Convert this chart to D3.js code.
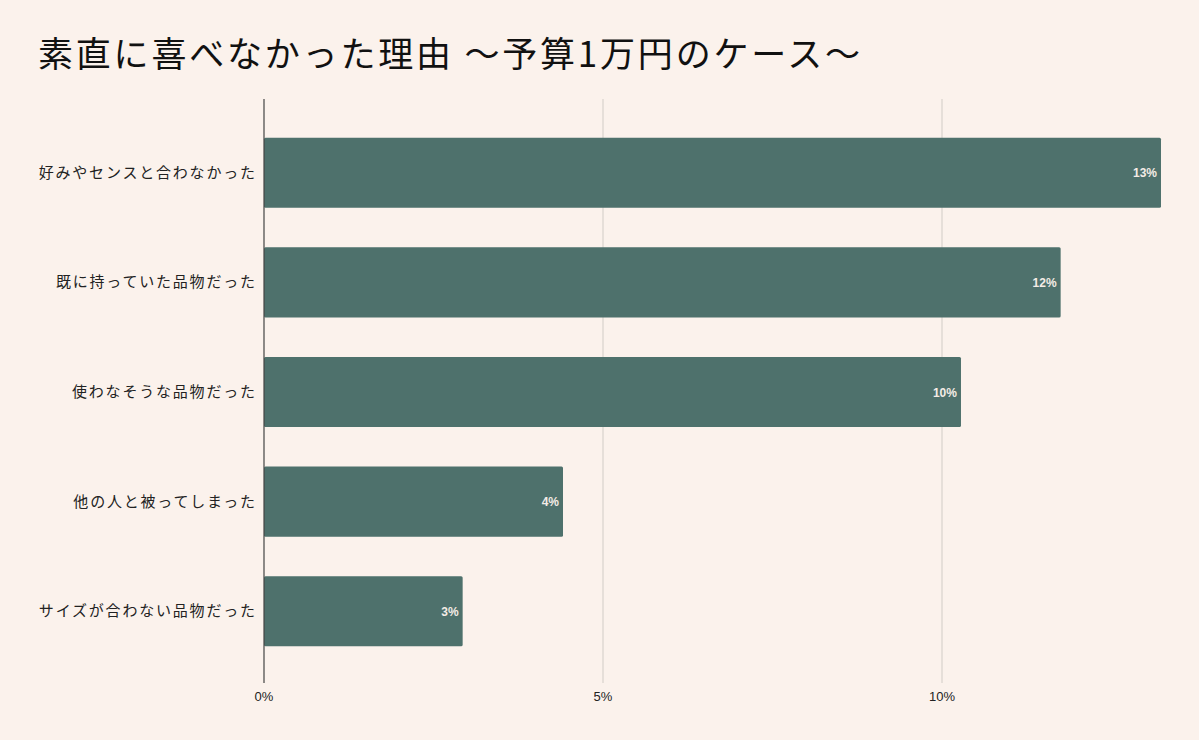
<!DOCTYPE html>
<html><head><meta charset="utf-8">
<script src="https://cdn.jsdelivr.net/npm/d3@7"></script>
<style>
html,body{margin:0;padding:0;background:#fbf2ec;}
svg{display:block;font-family:"Noto Sans CJK JP","Noto Sans",sans-serif;}
</style></head>
<body><svg id="c" width="1199" height="740"></svg>
<script>
const title = "素直に喜べなかった理由 ～予算1万円のケース～";
const categories = ["好みやセンスと合わなかった","既に持っていた品物だった","使わなそうな品物だった","他の人と被ってしまった","サイズが合わない品物だった"];
const values = [13.23, 11.75, 10.28, 4.41, 2.93];
const tickValues = [0, 5, 10];

const svg = d3.select("#c");
svg.append("rect").attr("width",1199).attr("height",740).attr("fill","#fbf2ec");
svg.append("text").attr("x",38).attr("y",67).attr("font-size",35).attr("letter-spacing",2.8)
  .attr("fill","#111").text(title);

const x = d3.scaleLinear().domain([0,10]).range([264,942]);
const y = d3.scaleBand().domain(categories).range([118,666]).paddingInner(0.36).paddingOuter(0.18);

// grid
svg.append("g").selectAll("line").data(tickValues.filter(d=>d>0)).join("line")
  .attr("x1",d=>x(d)).attr("x2",d=>x(d)).attr("y1",99).attr("y2",683)
  .attr("stroke","#d9d2cd").attr("stroke-width",1.2);

// bars
svg.append("g").selectAll("rect").data(values).join("rect")
  .attr("x",x(0)).attr("y",(d,i)=>y(categories[i]))
  .attr("width",d=>x(d)-x(0)).attr("height",y.bandwidth())
  .attr("rx",1.5).attr("fill","#4e716c");

// value labels
svg.append("g").selectAll("text").data(values).join("text")
  .attr("x",d=>x(d)-4).attr("y",(d,i)=>y(categories[i])+y.bandwidth()/2+4.5)
  .attr("text-anchor","end").attr("font-size",12).attr("font-weight","bold")
  .attr("font-family","'Liberation Sans', Arial, sans-serif")
  .attr("fill","#f4ece6").text(d=>Math.round(d)+"%");

// axis line
svg.append("line").attr("x1",x(0)).attr("x2",x(0)).attr("y1",99).attr("y2",683)
  .attr("stroke","#444").attr("stroke-width",1.2);

// category labels
svg.append("g").selectAll("text").data(categories).join("text")
  .attr("x",256.8).attr("y",d=>y(d)+y.bandwidth()/2+5)
  .attr("text-anchor","end").attr("font-size",15).attr("letter-spacing",1.8)
  .attr("fill","#222").text(d=>d);

// x tick labels
svg.append("g").selectAll("text").data(tickValues).join("text")
  .attr("x",d=>x(d)).attr("y",701).attr("text-anchor","middle")
  .attr("font-size",13).attr("font-family","'Liberation Sans', Arial, sans-serif").attr("fill","#222").text(d=>d+"%");
</script></body></html>
